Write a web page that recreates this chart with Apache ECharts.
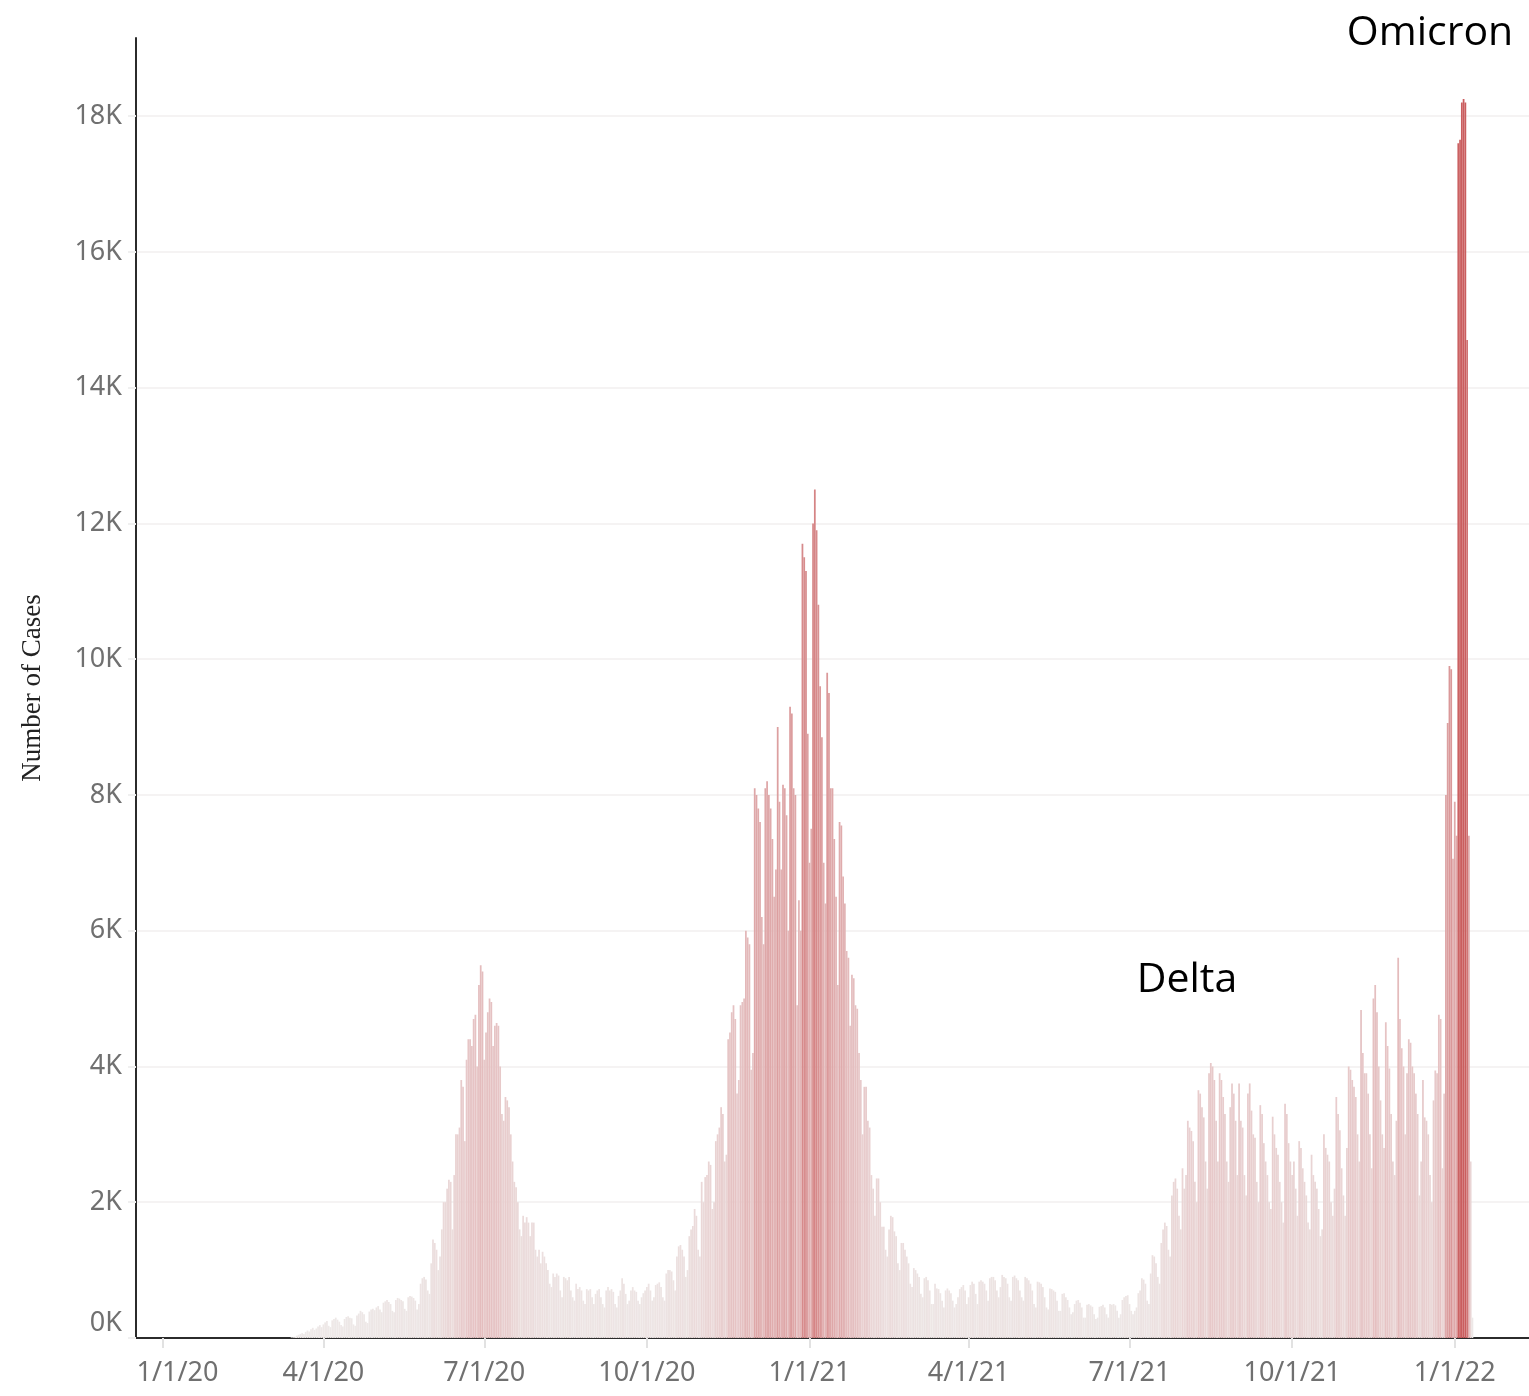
<!DOCTYPE html>
<html>
<head>
<meta charset="utf-8">
<title>Number of Cases</title>
<script src="https://cdn.jsdelivr.net/npm/echarts@6/dist/echarts.min.js"></script>
<style>
html, body { margin: 0; padding: 0; background: #fff; }
#chart { width: 1529px; height: 1396px; }
</style>
</head>
<body>
<div id="chart"></div>
<script>
// daily cases in thousands, one array per month (march 2020 starts on the 14th)
var mar20 = [0.01, 0.012, 0.02, 0.035, 0.048, 0.06, 0.072, 0.06, 0.09, 0.11, 0.095, 0.13, 0.15, 0.12, 0.14, 0.17, 0.19, 0.16];
var apr20 = [0.2, 0.23, 0.25, 0.18, 0.16, 0.26, 0.28, 0.3, 0.27, 0.24, 0.19, 0.17, 0.28, 0.31, 0.32, 0.3, 0.29, 0.2, 0.18, 0.33, 0.36, 0.4, 0.38, 0.35, 0.24, 0.22, 0.39, 0.42, 0.43, 0.41];
var may20 = [0.45, 0.47, 0.42, 0.38, 0.52, 0.54, 0.56, 0.53, 0.5, 0.4, 0.38, 0.56, 0.59, 0.58, 0.56, 0.54, 0.43, 0.4, 0.6, 0.62, 0.61, 0.59, 0.55, 0.42, 0.5, 0.8, 0.88, 0.9, 0.86, 0.7, 0.65];
var jun20 = [1.1, 1.45, 1.4, 1.3, 1.0, 1.2, 1.6, 2.0, 2.0, 2.2, 2.33, 2.3, 1.6, 2.4, 3.0, 3.0, 3.1, 3.8, 3.7, 2.9, 4.1, 4.4, 4.4, 4.3, 4.7, 4.76, 4.0, 5.2, 5.49, 5.4];
var jul20 = [4.1, 4.5, 4.8, 5.0, 4.95, 4.3, 4.6, 4.64, 4.6, 4.0, 3.3, 3.2, 3.55, 3.5, 3.4, 3.0, 2.6, 2.3, 2.22, 2.0, 1.6, 1.5, 1.8, 1.7, 1.78, 1.7, 1.5, 1.7, 1.7, 1.3, 1.2];
var aug20 = [1.3, 1.1, 1.27, 1.2, 1.1, 1.0, 0.8, 0.75, 0.95, 0.9, 0.95, 0.92, 0.7, 0.6, 0.9, 0.88, 0.85, 0.9, 0.7, 0.6, 0.55, 0.8, 0.72, 0.75, 0.7, 0.55, 0.5, 0.72, 0.7, 0.72, 0.6];
var sep20 = [0.5, 0.65, 0.7, 0.72, 0.6, 0.5, 0.45, 0.7, 0.75, 0.7, 0.72, 0.68, 0.5, 0.45, 0.62, 0.7, 0.88, 0.8, 0.65, 0.5, 0.55, 0.7, 0.75, 0.7, 0.68, 0.55, 0.5, 0.6, 0.66, 0.7];
var oct20 = [0.75, 0.8, 0.7, 0.55, 0.6, 0.78, 0.8, 0.82, 0.75, 0.6, 0.55, 0.95, 1.0, 1.0, 0.98, 0.85, 0.7, 1.2, 1.35, 1.37, 1.3, 1.2, 0.9, 1.0, 1.5, 1.6, 1.65, 1.9, 1.8, 1.3, 1.2];
var nov20 = [2.3, 2.0, 2.37, 2.4, 2.6, 2.55, 1.9, 2.0, 2.9, 3.0, 3.1, 3.4, 3.3, 2.6, 2.7, 4.4, 4.5, 4.8, 4.9, 4.7, 3.6, 3.8, 4.9, 4.95, 5.0, 6.0, 5.9, 5.8, 3.95, 4.2];
var dec20 = [8.1, 8.0, 7.8, 7.6, 6.2, 5.8, 8.1, 8.2, 8.0, 7.8, 7.35, 6.5, 6.9, 9.0, 7.9, 6.9, 8.15, 8.1, 7.7, 6.0, 9.3, 9.2, 8.1, 8.0, 4.9, 6.45, 6.0, 11.7, 11.5, 11.3, 8.9];
var jan21 = [7.0, 7.5, 12.0, 12.5, 11.9, 10.8, 9.6, 8.85, 7.0, 6.4, 9.8, 9.5, 8.1, 8.1, 7.35, 6.5, 5.2, 7.6, 7.55, 6.8, 6.4, 5.7, 5.6, 4.6, 5.35, 5.3, 4.9, 4.85, 4.2, 3.8, 3.0];
var feb21 = [3.7, 3.7, 3.2, 3.1, 2.4, 2.2, 1.8, 2.35, 2.35, 2.0, 1.64, 1.64, 1.3, 1.2, 1.6, 1.8, 1.78, 1.57, 1.5, 1.1, 1.0, 1.4, 1.4, 1.3, 1.2, 1.1, 0.8, 0.75];
var mar21 = [1.03, 1.0, 0.95, 0.9, 0.65, 0.6, 0.88, 0.9, 0.85, 0.7, 0.5, 0.5, 0.8, 0.73, 0.72, 0.66, 0.55, 0.45, 0.7, 0.73, 0.7, 0.66, 0.55, 0.45, 0.5, 0.6, 0.72, 0.75, 0.78, 0.7, 0.5];
var apr21 = [0.6, 0.78, 0.83, 0.8, 0.65, 0.5, 0.83, 0.85, 0.83, 0.8, 0.7, 0.55, 0.88, 0.9, 0.9, 0.85, 0.7, 0.6, 0.75, 0.93, 0.9, 0.88, 0.8, 0.6, 0.55, 0.9, 0.92, 0.88, 0.85, 0.7];
var may21 = [0.6, 0.55, 0.9, 0.88, 0.85, 0.8, 0.7, 0.5, 0.45, 0.83, 0.82, 0.8, 0.75, 0.6, 0.45, 0.42, 0.73, 0.72, 0.7, 0.68, 0.55, 0.4, 0.4, 0.65, 0.66, 0.6, 0.56, 0.45, 0.35, 0.38, 0.5];
var jun21 = [0.55, 0.56, 0.52, 0.45, 0.3, 0.3, 0.49, 0.5, 0.48, 0.46, 0.35, 0.28, 0.3, 0.46, 0.47, 0.49, 0.45, 0.35, 0.3, 0.5, 0.49, 0.5, 0.48, 0.4, 0.3, 0.35, 0.56, 0.6, 0.62, 0.63];
var jul21 = [0.5, 0.4, 0.35, 0.4, 0.45, 0.66, 0.7, 0.88, 0.86, 0.8, 0.55, 0.5, 0.95, 1.22, 1.2, 1.1, 0.9, 0.8, 1.4, 1.6, 1.7, 1.65, 1.3, 1.2, 2.1, 2.3, 2.35, 2.2, 1.8, 1.6, 2.5];
var aug21 = [2.2, 2.4, 3.2, 3.1, 3.05, 2.9, 2.3, 2.0, 3.65, 3.6, 3.4, 3.25, 2.6, 2.2, 3.9, 4.05, 4.0, 3.8, 3.2, 2.6, 3.9, 3.8, 3.55, 3.3, 2.6, 2.3, 3.4, 3.75, 3.6, 3.2, 2.4];
var sep21 = [3.75, 3.2, 3.1, 2.4, 2.1, 3.6, 3.75, 3.35, 3.0, 2.95, 2.3, 2.0, 3.43, 3.3, 2.87, 2.6, 2.4, 2.0, 1.9, 3.26, 3.0, 2.8, 2.7, 2.3, 2.0, 1.7, 3.45, 3.3, 2.87, 2.6];
var oct21 = [2.4, 2.6, 2.2, 1.8, 2.9, 2.8, 2.5, 2.3, 2.1, 1.7, 1.6, 2.7, 2.4, 2.3, 2.2, 1.9, 1.5, 1.6, 3.0, 2.8, 2.7, 2.6, 2.0, 1.8, 2.2, 3.55, 3.3, 3.06, 2.5, 2.1, 1.8];
var nov21 = [2.8, 4.0, 3.95, 3.8, 3.7, 3.55, 3.0, 2.6, 4.83, 4.2, 3.9, 3.9, 3.6, 3.0, 2.5, 5.0, 5.2, 4.8, 4.0, 3.5, 3.0, 2.8, 4.65, 4.3, 3.97, 3.3, 2.6, 2.4, 3.2, 5.6];
var dec21 = [4.7, 4.27, 4.0, 3.0, 3.9, 4.4, 4.35, 4.0, 3.9, 3.6, 3.3, 2.1, 2.6, 3.8, 3.25, 3.2, 3.0, 2.4, 2.0, 3.5, 3.94, 3.9, 4.76, 4.7, 2.5, 3.6, 8.0, 9.06, 9.9, 9.85, 7.06];
var jan22 = [7.9, 7.4, 17.6, 17.65, 18.2, 18.25, 18.2, 14.7, 7.4, 2.6, 0.3];

// [year, month (0-based), first day, values]
var months = [
    [2020, 2, 14, mar20], [2020, 3, 1, apr20], [2020, 4, 1, may20], [2020, 5, 1, jun20],
    [2020, 6, 1, jul20], [2020, 7, 1, aug20], [2020, 8, 1, sep20], [2020, 9, 1, oct20],
    [2020, 10, 1, nov20], [2020, 11, 1, dec20], [2021, 0, 1, jan21], [2021, 1, 1, feb21],
    [2021, 2, 1, mar21], [2021, 3, 1, apr21], [2021, 4, 1, may21], [2021, 5, 1, jun21],
    [2021, 6, 1, jul21], [2021, 7, 1, aug21], [2021, 8, 1, sep21], [2021, 9, 1, oct21],
    [2021, 10, 1, nov21], [2021, 11, 1, dec21], [2022, 0, 1, jan22]
];

var xTickLabels = ['1/1/20', '4/1/20', '7/1/20', '10/1/20', '1/1/21', '4/1/21', '7/1/21', '10/1/21', '1/1/22'];

function parseLabel(s) {
    var p = s.split('/');
    return new Date(2000 + Number(p[2]), Number(p[0]) - 1, Number(p[1])).getTime();
}

var seriesData = [];
months.forEach(function (m) {
    m[3].forEach(function (v, i) {
        seriesData.push([new Date(m[0], m[1], m[2] + i).getTime(), v]);
    });
});

var tickValues = xTickLabels.map(parseLabel);
var labelColor = '#707070';
var labelFont = 'Noto Sans';

var option = {
    animation: false,
    backgroundColor: '#fff',
    grid: { left: 136, right: 0, top: 38, bottom: 58, containLabel: false, outerBoundsMode: 'none' },
    visualMap: {
        show: false,
        type: 'continuous',
        dimension: 1,
        seriesIndex: 0,
        min: 0,
        max: 18.25,
        inRange: { color: ['#eeeae9', '#e6c4c5', '#dc9e9f', '#d27b7c', '#ca5d5e'] }
    },
    xAxis: {
        type: 'value',
        min: new Date(2019, 11, 17).getTime(),
        max: new Date(2022, 1, 12).getTime(),
        axisLine: { show: true, lineStyle: { color: '#2b2b2b', width: 2 } },
        axisTick: { show: true, customValues: tickValues, length: 10, lineStyle: { color: '#e2e2e2', width: 2 } },
        splitLine: { show: false },
        axisLabel: {
            customValues: tickValues,
            margin: 22,
            fontSize: 27,
            fontFamily: labelFont,
            color: labelColor,
            formatter: function (value) {
                var i = tickValues.indexOf(value);
                var s = i >= 0 ? xTickLabels[i] : '';
                return i === 0 ? '{first|' + s + '}' : s;
            },
            rich: {
                first: { padding: [0, 0, 0, 30], fontSize: 27, fontFamily: labelFont, color: labelColor }
            }
        }
    },
    yAxis: {
        type: 'value',
        min: 0,
        max: 19.15,
        interval: 2,
        name: 'Number of Cases',
        nameLocation: 'middle',
        nameRotate: 90,
        nameGap: 90,
        nameTextStyle: { fontFamily: 'Liberation Serif', fontSize: 27, color: '#222' },
        axisLine: { show: true, lineStyle: { color: '#2b2b2b', width: 2 } },
        axisTick: { show: true, length: 8, lineStyle: { color: '#f0f0f0', width: 2 } },
        splitLine: { show: true, showMaxLine: false, lineStyle: { color: '#f5f3f3', width: 2 } },
        axisLabel: {
            showMaxLabel: false,
            margin: 14,
            fontSize: 27,
            fontFamily: labelFont,
            color: labelColor,
            formatter: function (v) {
                return v === 0 ? '{zero|0K}' : v + 'K';
            },
            rich: {
                zero: { padding: [0, 0, 30, 0], fontSize: 27, fontFamily: labelFont, color: labelColor }
            }
        }
    },
    series: [{
        type: 'bar',
        data: seriesData,
        barWidth: 1.75,
        itemStyle: { borderWidth: 0 }
    }],
    graphic: [
        { type: 'text', x: 1430, y: 33, style: { text: 'Omicron', font: '41px "Open Sans"', fill: '#000', align: 'center', verticalAlign: 'middle' } },
        { type: 'text', x: 1187, y: 980, style: { text: 'Delta', font: '41px "Open Sans"', fill: '#000', align: 'center', verticalAlign: 'middle' } }
    ]
};

var chart = echarts.init(document.getElementById('chart'));
chart.setOption(option);
</script>
</body>
</html>
